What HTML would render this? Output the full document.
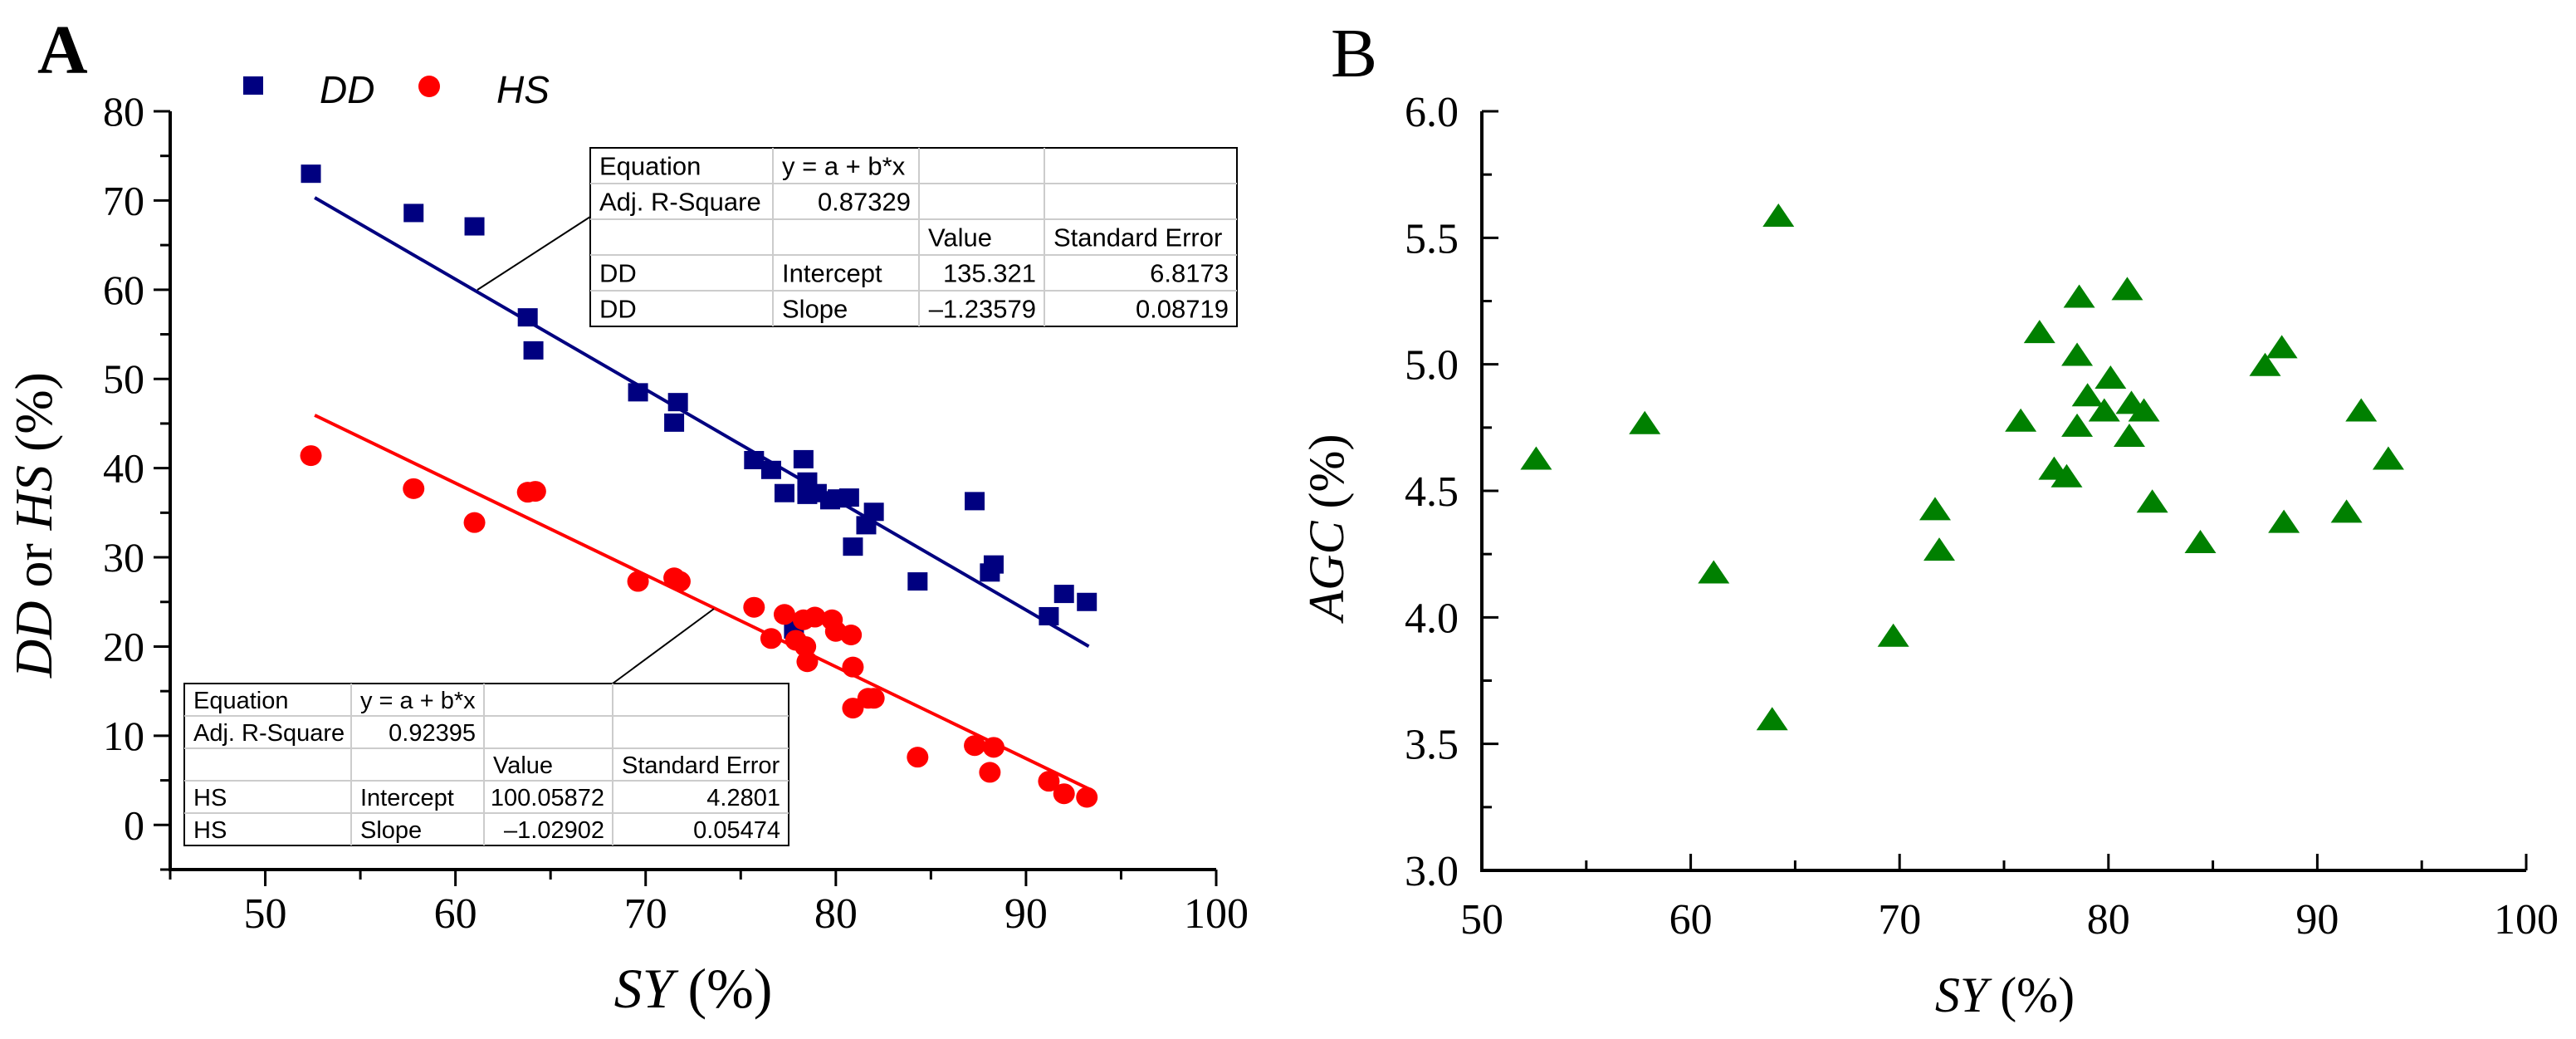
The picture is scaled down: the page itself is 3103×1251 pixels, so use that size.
<!DOCTYPE html>
<html><head><meta charset="utf-8"><style>
html,body{margin:0;padding:0;background:#fff;}
svg{display:block;}
.t{font-family:"Liberation Serif",serif;fill:#000;}
.s{font-family:"Liberation Sans",sans-serif;fill:#000;}
</style></head><body>
<svg id="chart" width="3103" height="1251" viewBox="0 0 3103 1251" xmlns="http://www.w3.org/2000/svg">
<g id="pa"></g>
<g id="pb"></g>
</svg>
<script>
const ddX=[52.4,57.8,61.0,63.8,64.1,69.6,71.7,71.5,75.7,76.6,77.3,78.3,78.5,78.5,79.0,79.7,80.1,80.7,80.9,81.6,82.0,84.3,87.3,88.1,88.3,91.2,92.0,93.2,77.8];
const ddY=[73.0,68.6,67.1,56.9,53.2,48.5,47.4,45.1,40.9,39.8,37.2,41.0,38.5,37.0,37.2,36.4,36.6,36.7,31.2,33.6,35.1,27.3,36.3,28.3,29.2,23.4,25.9,25.0,21.9];
const hsX=[52.4,57.8,61.0,63.8,64.2,69.6,71.5,71.8,75.7,76.6,77.3,77.9,78.3,78.4,78.5,78.9,79.8,80.0,80.8,80.9,80.9,81.7,82.0,84.3,87.3,88.3,88.1,91.2,92.0,93.2];
const hsY=[41.4,37.7,33.9,37.3,37.4,27.3,27.7,27.3,24.4,20.9,23.6,20.7,23.0,20.0,18.3,23.3,23.0,21.7,21.3,17.7,13.1,14.2,14.2,7.6,8.9,8.7,5.9,4.9,3.5,3.1];
const agcX=[52.6,57.8,61.1,63.9,64.2,69.7,71.7,71.9,75.8,76.7,77.4,78.0,78.6,78.5,78.5,79.0,79.8,80.1,80.9,81.1,81.0,81.7,82.1,84.4,87.5,88.3,88.4,91.4,92.1,93.4];
const agcY=[4.62,4.76,4.17,3.59,5.58,3.92,4.42,4.26,4.77,5.12,4.58,4.55,5.26,5.03,4.75,4.87,4.81,4.94,5.29,4.84,4.71,4.81,4.45,4.29,4.99,5.06,4.37,4.41,4.81,4.62];
const ddFit=[135.321,-1.23579];
const hsFit=[100.05872,-1.02902];
const fitRange=[52.6,93.3];
const aXTicks=[50,60,70,80,90,100];
const aYTicks=[0,10,20,30,40,50,60,70,80];
const bXTicks=[50,60,70,80,90,100];
const bYTicks=[3.0,3.5,4.0,4.5,5.0,5.5,6.0];

const NS="http://www.w3.org/2000/svg";
function mk(tag,attrs,parent,text){const e=document.createElementNS(NS,tag);for(const k in attrs)e.setAttribute(k,attrs[k]);if(text!==undefined)e.textContent=text;parent.appendChild(e);return e;}

// Panel A
const pa=document.getElementById('pa');
const ax=v=>205+(v-45)*(1465-205)/55;
const ay=v=>1047-(v+5)*(1047-134)/85;
let e;
e=mk('text',{x:45,y:88,class:'t','font-size':84,'font-weight':'bold'},pa,'A');

e=mk('path',{d:`M205,134 V1047 H1465`,stroke:'#000','stroke-width':4,fill:'none'},pa);

for(let v=45;v<=100;v+=5){const maj=v%10===0;e=mk('line',{x1:ax(v),x2:ax(v),y1:1047,y2:1047+(maj?20:12),stroke:'#000','stroke-width':3},pa);
}
for(let v=-5;v<=80;v+=5){const maj=v%10===0;e=mk('line',{x1:205,x2:205-(maj?20:12),y1:ay(v),y2:ay(v),stroke:'#000','stroke-width':3},pa);
}
aXTicks.forEach(v=>{e=mk('text',{x:ax(v),y:1117,class:'t','font-size':52,'text-anchor':'middle'},pa,String(v));
});
aYTicks.forEach(v=>{e=mk('text',{x:174,y:ay(v)+17,class:'t','font-size':50,'text-anchor':'end'},pa,String(v));
});
e=mk('text',{x:835,y:1213,class:'t','font-size':68,'text-anchor':'middle'},pa);
e.innerHTML='<tspan font-style="italic">SY</tspan> (%)';

e=mk('text',{x:0,y:0,class:'t','font-size':64,'text-anchor':'middle',transform:'translate(62,632) rotate(-90)'},pa);
e.innerHTML='<tspan font-style="italic">DD</tspan> or <tspan font-style="italic">HS</tspan> (%)';

e=mk('rect',{x:293,y:92,width:24,height:22,fill:'#000080'},pa);

e=mk('text',{x:385,y:124,class:'s','font-size':46,'font-style':'italic'},pa,'DD');

e=mk('circle',{cx:517,cy:104,r:13,fill:'#ff0000'},pa);

e=mk('text',{x:598,y:124,class:'s','font-size':46,'font-style':'italic'},pa,'HS');

e=mk('line',{x1:ax(fitRange[0]),y1:ay(ddFit[0]+ddFit[1]*fitRange[0]),x2:ax(fitRange[1]),y2:ay(ddFit[0]+ddFit[1]*fitRange[1]),stroke:'#000080','stroke-width':4},pa);

e=mk('line',{x1:ax(fitRange[0]),y1:ay(hsFit[0]+hsFit[1]*fitRange[0]),x2:ax(fitRange[1]),y2:ay(hsFit[0]+hsFit[1]*fitRange[1]),stroke:'#ff0000','stroke-width':4},pa);

ddX.forEach((x,i)=>{e=mk('rect',{x:ax(x)-12,y:ay(ddY[i])-11,width:24,height:22,fill:'#000080'},pa);
});
hsX.forEach((x,i)=>{e=mk('ellipse',{cx:ax(x),cy:ay(hsY[i]),rx:13,ry:12.5,fill:'#ff0000'},pa);
});
e=mk('line',{x1:575,y1:349,x2:711,y2:261,stroke:'#000','stroke-width':2},pa);

e=mk('line',{x1:860,y1:733,x2:738,y2:823,stroke:'#000','stroke-width':2},pa);

function table(name,cols,rows,cells,fs){
  const g=mk('g',{},pa);
  mk('rect',{x:cols[0],y:rows[0],width:cols[cols.length-1]-cols[0],height:rows[rows.length-1]-rows[0],fill:'#fff',stroke:'#000','stroke-width':2},g);
  for(let i=1;i<rows.length-1;i++)mk('line',{x1:cols[0],x2:cols[cols.length-1],y1:rows[i],y2:rows[i],stroke:'#ccc','stroke-width':2},g);
  for(let j=1;j<cols.length-1;j++)mk('line',{x1:cols[j],x2:cols[j],y1:rows[0],y2:rows[rows.length-1],stroke:'#ccc','stroke-width':2},g);
  cells.forEach((r,i)=>r.forEach((c,j)=>{if(!c)return;const right=c[0]==='>';const t=right?c.slice(1):c;
    mk('text',{x:right?cols[j+1]-10:cols[j]+11,y:(rows[i]+rows[i+1])/2+fs*0.36,class:'s','font-size':fs,'text-anchor':right?'end':'start'},g,t);}));
}
table('dd-regression-table',[711,931,1107,1258,1490],[178,221,264,307,350,393],
 [['Equation','y = a + b*x','',''],['Adj. R-Square','>0.87329','',''],['','','Value','Standard Error'],['DD','Intercept','>135.321','>6.8173'],['DD','Slope','>\u20131.23579','>0.08719']],31);
table('hs-regression-table',[222,423,583,738,950],[823,862,901,940,979,1018],
 [['Equation','y = a + b*x','',''],['Adj. R-Square','>0.92395','',''],['','','Value','Standard Error'],['HS','Intercept','>100.05872','>4.2801'],['HS','Slope','>\u20131.02902','>0.05474']],29);

// Panel B
const pb=document.getElementById('pb');
const bx=v=>1785+(v-50)*(3043-1785)/50;
const by=v=>1048-(v-3)*(1048-134)/3;
e=mk('text',{x:1603,y:92,class:'t','font-size':84},pb,'B');

e=mk('path',{d:`M1785,134 V1048 H3043`,stroke:'#000','stroke-width':4,fill:'none'},pb);

for(let v=50;v<=100;v+=5){const maj=v%10===0;e=mk('line',{x1:bx(v),x2:bx(v),y1:1048,y2:1048-(maj?20:12),stroke:'#000','stroke-width':3},pb);
}
for(let v=3;v<=6.001;v+=0.25){const maj=Math.abs(v*2-Math.round(v*2))<1e-6;e=mk('line',{x1:1785,x2:1785+(maj?20:12),y1:by(v),y2:by(v),stroke:'#000','stroke-width':3},pb);
}
bXTicks.forEach(v=>{e=mk('text',{x:bx(v),y:1124,class:'t','font-size':52,'text-anchor':'middle'},pb,String(v));
});
bYTicks.forEach(v=>{e=mk('text',{x:1757,y:by(v)+18,class:'t','font-size':52,'text-anchor':'end'},pb,v.toFixed(1));
});
e=mk('text',{x:2415,y:1218,class:'t','font-size':60,'text-anchor':'middle'},pb);
e.innerHTML='<tspan font-style="italic">SY</tspan> (%)';

e=mk('text',{x:0,y:0,class:'t','font-size':60,'text-anchor':'middle',transform:'translate(1618,635) rotate(-90)'},pb);
e.innerHTML='<tspan font-style="italic">AGC</tspan> (%)';

agcX.forEach((x,i)=>{const cx=bx(x),cy=by(agcY[i]);
e=mk('polygon',{points:`${cx-19},${cy+11} ${cx+19},${cy+11} ${cx},${cy-17}`,fill:'#008000'},pb);
});
</script>
</body></html>
